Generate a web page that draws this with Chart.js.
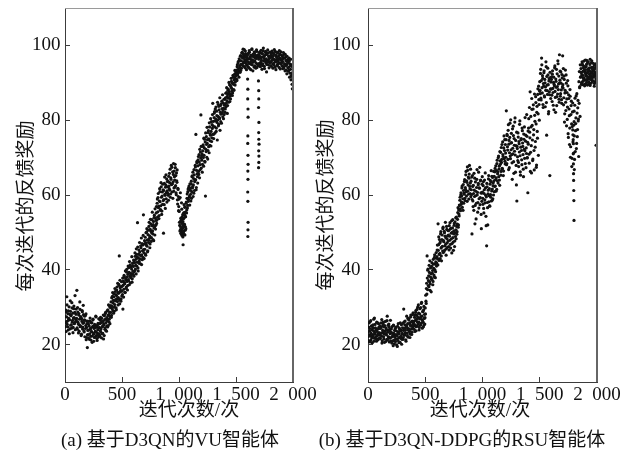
<!DOCTYPE html>
<html><head><meta charset="utf-8">
<script src="https://cdn.jsdelivr.net/npm/chart.js@4.4.1/dist/chart.umd.min.js"></script>
<style>
html,body{margin:0;padding:0;background:#fff;}
#wrap{position:relative;width:624px;height:453px;overflow:hidden;font-family:"Liberation Serif","Noto Sans CJK SC",serif;color:#111;}
canvas{position:absolute;left:0;top:0;}
.yt{position:absolute;width:240px;height:24px;line-height:24px;text-align:center;font-size:19px;transform:rotate(-90deg);font-family:"Noto Sans CJK SC",sans-serif;white-space:nowrap;}
.xt{position:absolute;width:200px;height:24px;line-height:24px;text-align:center;font-size:19px;white-space:nowrap;}
.cap{position:absolute;width:320px;height:24px;line-height:24px;text-align:center;font-size:19px;white-space:nowrap;}
</style></head>
<body>
<div id="wrap">
<canvas id="c1" width="624" height="453"></canvas>
<canvas id="c2" width="624" height="453"></canvas>
<div class="yt" style="left:-96px;top:194px;">每次迭代的反馈奖励</div>
<div class="yt" style="left:204px;top:193px;">每次迭代的反馈奖励</div>
<div class="xt" style="left:89px;top:398px;">迭代次数/次</div>
<div class="xt" style="left:380px;top:398px;">迭代次数/次</div>
<div class="cap" style="left:10px;top:428px;">(a) 基于D3QN的VU智能体</div>
<div class="cap" style="left:302px;top:428px;">(b) 基于D3QN-DDPG的RSU智能体</div>
</div>
<script>
// iteration step between successive entries of the reward arrays
const STEP = 4;
const xTickValues = [0, 500, 1000, 1500, 2000];
const xTickLabels = ['0', '500', '1\u2002000', '1\u2002500', '2\u2002000'];
const yTickValues = [20, 40, 60, 80, 100];

// (a) VU agent, reward at iterations 0,4,8,...,1996
const vuReward = [
27.5,24.8,29.2,26.1,32.8,25.4,28.3,23.9,27.0,30.1,26.6,24.2,28.9,27.7,25.3,31.2,26.0,28.4,24.6,29.6,27.2,25.8,33.1,26.9,28.1,
26.4,34.5,24.1,28.7,25.5,27.9,23.6,26.8,29.4,25.0,27.3,22.8,26.2,28.8,24.7,30.5,25.9,23.4,27.6,26.5,24.3,28.2,21.9,25.6,19.2,
23.8,26.2,21.7,25.0,22.9,27.1,24.4,21.2,23.5,25.8,22.3,26.6,24.9,20.9,23.1,25.4,22.0,24.6,27.4,23.3,21.6,25.2,24.0,22.6,26.9,
22.8,25.6,23.7,27.3,24.2,21.8,26.1,24.8,23.0,27.9,25.3,22.4,26.7,24.5,28.6,25.9,23.6,27.2,26.4,29.3,25.1,28.0,26.8,30.2,27.5,
28.6,31.4,27.8,30.2,32.9,29.1,31.8,33.6,28.9,30.7,34.2,32.0,29.8,33.1,35.4,31.5,34.0,32.6,36.1,43.7,30.9,35.2,34.5,32.2,36.8,
35.6,33.4,29.5,37.0,34.8,38.2,36.3,33.9,37.7,35.1,39.4,36.9,34.6,38.8,37.4,40.6,36.0,39.1,41.3,37.9,38.5,40.2,36.7,41.8,39.6,
40.9,38.3,42.4,39.8,43.6,41.2,38.9,44.1,42.0,52.6,40.5,43.1,45.3,41.7,44.8,42.9,46.4,43.8,41.4,47.0,45.1,43.3,54.7,44.6,46.9,
45.5,48.7,43.9,47.2,50.1,46.3,44.8,49.4,47.9,51.6,48.4,45.9,50.8,52.3,47.6,49.9,53.4,50.4,48.1,52.9,51.2,54.6,49.3,53.8,51.9,
55.2,52.4,57.8,54.1,59.3,56.6,53.7,58.4,60.9,55.9,57.1,62.2,54.8,59.7,57.5,61.4,49.8,58.8,63.1,60.2,56.4,62.7,59.0,64.3,61.1,
60.5,63.7,58.6,62.4,65.8,61.3,59.4,64.6,67.9,62.9,60.8,66.2,63.5,68.4,61.9,64.9,62.1,67.3,65.2,60.1,63.8,66.7,57.6,61.5,55.8,
58.9,52.7,50.4,60.6,53.8,49.6,56.2,51.3,54.7,46.7,50.2,57.4,52.1,49.3,55.4,51.0,58.1,56.0,60.3,57.2,61.6,58.8,62.4,59.7,63.0,
61.8,58.4,63.7,60.9,65.1,62.3,59.6,64.4,66.8,61.2,63.9,67.5,76.2,62.0,68.6,65.7,63.2,69.4,66.3,70.8,64.6,68.1,71.5,81.4,67.2,
69.3,66.1,71.8,73.4,67.7,70.6,74.9,68.8,59.7,72.2,75.6,70.1,73.8,69.6,76.7,72.9,71.3,78.2,74.5,76.0,73.1,79.6,75.3,77.8,84.5,
78.4,75.1,80.7,82.3,76.6,79.8,83.5,77.9,81.2,74.7,80.1,84.2,78.9,82.8,80.4,77.3,83.9,81.6,79.2,85.1,82.0,80.9,84.6,83.2,81.5,
84.3,82.1,86.0,83.6,87.4,85.2,81.8,86.9,88.3,84.8,87.1,89.5,86.4,85.7,88.9,90.4,87.8,86.6,89.9,91.6,88.2,90.8,92.3,89.4,91.1,
91.9,93.4,90.6,94.8,92.5,95.7,93.1,96.4,94.2,92.8,97.3,95.0,93.9,96.9,98.2,94.6,97.6,95.4,98.9,96.2,94.0,97.8,95.8,93.5,97.0,
96.5,94.3,97.9,95.2,98.6,93.8,96.8,95.6,97.4,94.9,99.1,96.1,93.2,97.7,95.9,98.3,94.5,96.6,97.2,95.3,98.8,94.1,96.9,97.5,95.0,
96.3,98.1,94.7,97.0,95.5,98.7,96.0,93.6,97.8,95.1,99.3,96.7,94.4,97.3,95.8,98.4,96.4,92.9,97.6,95.7,98.0,94.8,96.2,97.1,95.4,
96.8,94.6,97.7,95.9,98.5,96.3,93.9,97.2,95.3,98.9,96.0,94.2,97.4,95.6,98.2,96.7,94.9,97.9,96.1,95.2,98.6,96.5,93.7,97.5,95.0,
96.2,94.5,97.3,95.7,98.1,94.0,96.6,95.1,97.6,93.4,96.0,94.8,97.1,95.3,93.1,96.4,94.2,95.8,92.6,94.9,96.3,91.8,94.4,89.6,92.7
];
// (a) VU agent, reward at iterations 2,6,10,...,1998
const vuRewardOdd = [
25.9,28.8,23.5,27.4,30.6,26.3,24.7,29.0,26.8,22.9,28.1,31.7,25.2,27.9,24.4,29.8,26.5,23.2,27.1,30.3,25.6,28.6,24.0,26.2,29.5,
27.0,24.5,29.9,26.0,23.1,28.3,25.3,31.4,24.8,27.5,22.4,26.9,29.1,24.2,25.7,28.0,23.7,26.6,22.1,27.8,25.1,21.3,24.6,26.3,22.7,
22.5,25.5,23.9,21.4,26.3,24.1,22.2,25.9,23.4,20.6,24.8,26.8,22.8,24.3,21.9,25.1,23.6,27.6,22.4,24.7,21.1,23.0,25.7,22.0,24.5,
24.6,22.3,26.5,23.4,25.8,27.0,22.9,24.9,26.2,21.5,25.5,27.7,24.1,28.3,23.8,26.9,25.0,29.0,24.7,27.8,30.6,26.1,28.7,25.6,29.9,
30.4,27.3,32.5,29.6,33.9,31.1,28.4,32.8,30.0,35.0,31.7,33.4,29.3,34.6,32.3,36.4,30.6,33.7,35.8,32.0,37.2,34.1,31.6,35.5,33.0,
34.3,37.8,35.9,32.7,38.5,36.6,34.0,39.7,37.3,35.4,40.1,38.1,35.8,41.0,37.0,39.3,42.2,38.3,36.5,40.8,39.0,43.5,37.6,41.1,38.8,
42.6,39.5,41.9,44.5,40.2,42.8,45.6,41.0,43.4,46.1,39.7,44.2,42.3,47.3,43.9,41.6,45.9,48.5,44.0,42.7,46.6,49.2,45.4,43.0,47.8,
47.0,44.2,49.9,46.6,51.0,48.0,45.1,50.6,47.3,52.7,49.1,46.9,53.5,50.3,48.6,51.8,55.4,49.6,52.1,47.8,54.0,51.5,56.3,50.9,53.2,
56.9,53.3,58.9,55.5,60.4,57.0,54.5,61.7,58.2,56.1,63.3,59.4,55.7,60.8,62.9,58.5,61.2,57.4,64.8,59.9,62.1,65.4,60.7,58.1,63.6,
62.2,59.9,65.0,61.7,63.3,66.9,60.3,64.2,62.8,67.4,63.0,59.1,65.5,61.0,66.4,64.0,68.2,62.5,60.6,65.9,63.4,58.7,61.8,59.6,56.9,
55.6,51.9,59.3,50.8,53.1,57.9,50.1,52.6,48.8,55.0,51.6,53.9,56.7,50.6,54.2,57.8,55.2,59.1,56.5,60.9,58.3,62.0,59.4,57.3,61.3,
60.2,63.0,59.1,64.9,61.9,66.1,62.7,60.5,65.4,63.6,67.9,64.1,61.4,66.6,69.0,64.9,67.8,70.3,65.5,68.8,72.2,66.8,69.9,73.0,70.5,
71.0,68.2,73.0,70.0,75.2,72.6,69.0,74.2,76.6,71.6,73.5,78.1,74.8,71.9,77.2,75.0,79.3,73.3,76.3,80.4,77.0,74.3,78.8,81.5,76.2,
79.7,76.3,81.9,78.2,83.0,80.3,77.0,82.4,79.4,84.8,81.0,78.5,83.7,80.7,86.0,82.1,79.6,84.4,81.8,83.1,86.8,82.6,80.4,85.6,84.0,
85.6,83.0,87.2,84.5,88.7,86.3,83.9,88.0,85.9,90.1,87.6,85.0,89.3,86.9,91.2,88.5,90.0,87.3,92.0,89.6,88.0,91.4,93.3,90.2,92.6,
93.0,90.9,94.3,92.1,95.3,93.7,91.5,96.0,94.6,97.1,93.3,95.9,98.0,94.9,96.6,99.0,95.6,97.2,94.3,96.8,98.5,95.2,97.4,94.7,96.3,
95.7,97.6,94.1,96.4,98.2,95.1,97.0,93.5,96.2,98.9,94.8,97.3,95.5,96.9,94.2,98.0,95.8,97.4,93.9,96.5,98.4,95.0,97.1,94.6,96.8,
97.4,95.2,98.3,94.3,96.6,97.9,95.0,96.9,94.6,98.6,95.9,97.2,93.8,96.3,98.1,95.4,97.6,94.9,96.1,98.8,95.6,97.0,94.0,96.7,98.2,
95.5,97.3,94.4,96.9,98.0,95.1,96.5,97.8,94.7,96.2,98.4,95.8,93.5,97.0,96.3,94.6,98.1,95.7,97.2,94.1,96.6,97.7,95.3,98.3,96.0,
95.4,97.0,93.8,96.5,94.3,97.7,95.0,93.2,96.8,94.6,95.9,92.4,96.1,94.0,95.5,93.3,96.6,91.5,95.0,93.6,90.8,94.7,92.2,88.4,91.3
];
// (a) VU agent, extra episodes: dip cluster near 1 030 and the two collapse columns
const vuExtraIter = [
1012,1016,1018,1022,1024,1026,1028,1030,1032,1034,1036,1038,1040,1042,1044,1046,1048,1050,1054,1056,
1602,1604,1603,1605,1606,1604,1603,1605,1606,1604,1605,1603,1604,1606,1605,1604,
1697,1699,1700,1698,1701,1699,1700,1702,1699,1701,1700,1698
];
const vuExtraReward = [
51.6,49.8,53.2,50.7,52.4,49.2,54.1,51.1,50.0,52.9,49.6,53.6,51.9,50.4,55.3,52.2,49.4,54.6,56.8,51.5,
91.0,88.3,85.7,83.0,80.8,75.8,73.8,70.6,68.2,66.4,64.2,60.8,58.3,52.7,50.7,48.9,
90.5,87.9,85.7,83.4,79.4,76.7,74.9,73.6,71.8,70.4,68.7,67.3
];

// (b) RSU agent, reward at iterations 0,4,8,...,1996
const rsuReward = [
23.4,21.1,25.8,22.6,24.3,20.7,26.4,23.0,21.8,24.9,22.2,25.3,23.7,20.9,27.1,22.8,24.5,21.5,23.9,26.0,22.4,24.1,21.3,25.6,23.2,
22.7,25.0,21.6,24.4,23.1,26.7,21.0,23.8,25.5,22.1,24.7,20.6,23.5,26.2,22.9,24.0,21.4,27.6,23.3,25.2,22.0,24.8,21.7,23.6,26.5,
21.9,24.2,20.4,23.1,22.5,19.7,25.1,21.2,23.8,22.0,20.8,24.6,22.7,21.5,19.5,23.4,25.6,21.8,22.9,24.0,20.6,23.6,22.2,25.3,21.4,
23.0,25.7,21.9,29.5,24.4,22.6,26.3,23.9,20.9,25.1,24.7,22.3,27.0,24.0,26.6,23.5,25.8,22.8,27.4,24.9,26.1,23.3,28.0,25.4,24.2,
26.2,24.1,27.9,25.3,28.6,23.7,26.8,29.4,25.0,27.3,30.6,26.0,24.6,28.2,27.1,29.9,25.7,31.3,27.6,26.4,28.9,24.8,30.2,27.0,25.5,
29.8,33.2,31.0,36.4,43.7,34.7,40.2,37.1,35.5,39.3,42.4,36.2,38.0,34.1,40.9,37.6,39.8,36.9,41.5,38.6,43.3,40.0,37.9,42.1,44.6,
41.8,45.3,43.0,52.3,46.7,42.5,48.1,44.4,47.5,50.2,43.7,46.1,49.3,45.0,51.4,47.8,44.9,49.9,46.4,52.7,48.6,45.6,50.8,47.2,49.1,
47.7,50.5,45.3,49.0,52.6,46.8,51.1,48.3,44.5,50.0,53.4,47.4,49.6,51.9,46.2,52.8,48.9,50.7,54.1,49.5,52.2,55.3,51.4,56.0,54.4,
57.2,59.4,55.8,60.6,58.1,61.9,56.7,59.0,62.8,57.8,60.2,64.1,58.5,61.5,66.3,59.7,63.4,67.5,61.0,64.8,58.9,65.6,62.3,60.4,66.9,
63.7,60.1,49.6,65.2,58.4,62.6,55.9,61.3,64.5,57.2,59.8,53.6,62.0,66.8,60.7,58.0,63.1,56.5,61.9,67.4,59.3,64.0,54.8,60.5,62.9,
60.8,57.5,63.6,55.2,61.4,58.7,65.9,59.9,51.8,46.4,62.2,56.6,60.3,64.3,58.2,61.7,57.0,63.9,59.4,66.5,61.1,58.6,64.7,62.5,60.0,
63.8,60.9,66.2,62.4,67.8,64.6,61.5,69.3,65.7,63.2,70.4,66.9,64.0,71.6,68.2,65.3,72.7,69.5,67.1,74.2,70.3,66.4,75.8,71.9,69.0,
73.5,70.1,82.5,68.4,75.9,72.0,77.3,66.8,74.6,71.3,79.2,69.7,73.9,76.5,70.8,64.2,72.5,78.4,68.9,75.1,71.7,80.6,66.1,73.2,62.7,
58.4,72.4,69.2,75.5,67.6,73.7,78.9,70.5,65.3,74.8,71.9,68.1,77.2,73.0,66.9,76.3,72.2,69.8,80.7,74.4,67.3,71.1,75.7,70.0,60.6,
73.6,80.4,68.5,76.8,87.6,71.4,78.2,65.9,82.9,74.7,69.6,84.1,77.5,66.7,81.3,72.8,86.3,79.0,68.0,83.7,75.2,88.4,70.6,85.5,80.0,
90.3,87.1,93.6,85.4,96.6,88.7,91.9,84.2,89.8,92.7,86.5,90.9,83.6,88.0,94.3,76.0,89.4,86.9,92.1,81.7,90.5,87.6,65.2,91.4,85.8,
88.3,91.6,85.0,93.2,87.4,90.1,82.8,89.2,94.5,86.1,91.0,88.8,83.9,92.4,87.0,95.1,89.7,85.6,97.5,90.7,86.4,92.9,88.1,84.5,91.3,
97.2,88.6,84.1,91.8,79.5,87.3,93.4,82.6,89.9,85.7,80.2,90.6,76.4,86.8,83.0,73.5,88.2,70.1,81.5,85.1,67.6,78.3,84.6,74.8,71.2,
82.4,69.5,85.9,77.2,80.6,72.4,87.1,75.6,83.3,79.8,70.3,84.5,88.7,81.0,91.5,93.8,89.6,92.2,95.0,90.4,93.1,91.0,94.4,89.2,92.6,
93.5,90.8,94.9,91.7,89.4,92.9,95.6,90.2,93.3,91.4,96.3,92.0,89.9,94.1,91.2,93.7,90.5,95.2,92.4,89.1,93.9,91.8,94.6,73.3,92.1
];
// (b) RSU agent, reward at iterations 2,6,10,...,1998
const rsuRewardOdd = [
22.1,24.7,20.8,23.6,26.1,22.4,21.2,25.0,23.9,20.5,24.4,22.7,26.8,21.7,23.3,25.4,22.0,24.2,20.9,23.5,25.9,22.9,21.6,24.6,22.5,
24.3,21.8,23.0,25.8,22.3,20.4,24.9,23.2,26.0,21.5,22.8,25.1,23.7,20.8,24.5,22.6,26.4,21.2,23.9,22.1,25.5,20.7,24.2,22.9,21.0,
23.3,20.9,24.8,22.1,21.0,25.2,23.0,20.2,22.6,24.3,21.5,23.7,19.9,22.4,24.9,21.1,23.2,20.5,24.4,22.0,25.8,21.7,23.9,20.1,22.8,
24.5,21.4,23.8,26.0,22.5,25.3,23.2,21.3,24.6,27.6,23.0,25.6,22.0,24.3,26.9,23.6,21.9,25.2,27.9,24.1,22.7,26.3,24.8,28.5,25.8,
25.0,27.3,23.5,26.5,29.1,24.8,27.8,26.1,30.0,25.6,28.4,23.9,26.9,29.6,25.2,27.5,31.0,26.7,24.4,28.8,26.0,29.3,25.3,28.1,27.2,
28.2,31.6,35.0,33.5,37.8,39.9,35.8,38.4,41.2,36.8,34.5,40.5,38.9,37.4,41.9,39.1,36.0,42.8,40.4,38.2,44.0,41.6,39.5,43.1,41.0,
43.5,46.6,41.3,45.2,48.8,44.1,47.1,43.0,49.6,45.8,42.4,48.1,46.3,51.0,44.6,47.5,50.3,45.3,49.0,46.9,43.9,51.6,48.3,46.0,50.5,
49.3,46.2,51.8,47.9,50.9,45.8,49.8,53.1,47.0,51.2,48.6,45.2,50.4,52.4,47.7,49.9,53.9,48.3,51.6,50.2,53.5,56.6,52.0,54.9,57.3,
58.6,56.3,60.0,57.5,59.8,62.4,58.0,55.9,61.2,60.5,63.6,59.1,62.0,65.4,60.9,63.8,58.3,66.6,62.7,60.2,64.5,67.9,61.6,63.2,59.5,
61.4,64.8,58.8,62.3,56.9,60.4,65.8,59.6,52.3,63.5,61.0,57.8,64.2,60.0,55.4,62.7,66.1,59.0,61.8,57.4,63.8,60.6,51.0,58.3,64.9,
59.1,62.5,56.4,60.4,64.0,57.9,61.9,54.3,59.5,63.1,58.0,52.0,61.3,65.2,59.8,57.1,62.9,60.1,63.5,58.4,65.0,61.6,59.0,63.3,66.3,
65.0,62.3,67.1,64.1,61.0,66.5,68.4,63.8,66.2,70.0,64.9,67.7,62.6,69.1,71.4,66.3,68.7,73.5,67.0,70.8,65.2,72.6,69.7,74.8,68.3,
71.2,74.8,68.1,76.2,72.9,69.5,78.8,73.6,67.3,75.4,70.4,80.1,72.1,74.0,68.6,77.7,71.0,75.9,65.8,73.3,79.5,70.7,74.6,67.9,76.8,
73.0,70.2,76.6,68.7,74.3,71.5,79.8,66.2,72.8,75.1,69.4,77.9,73.9,70.8,64.9,74.9,78.2,71.8,68.4,76.0,72.6,81.5,69.9,74.1,77.1,
77.9,70.9,83.4,75.3,66.3,81.0,73.2,85.8,78.6,69.2,83.0,76.1,71.9,87.0,79.7,74.3,84.7,67.4,82.1,77.0,86.9,81.7,89.1,84.2,87.8,
88.0,92.5,85.9,90.6,94.8,87.3,91.2,83.4,89.1,93.2,86.2,90.0,88.9,95.6,84.7,91.7,87.9,93.9,89.5,82.3,91.1,86.8,92.8,88.4,90.2,
90.9,86.7,92.3,88.5,84.0,91.5,89.6,94.0,87.7,82.1,90.4,93.6,86.3,89.0,95.9,88.2,91.8,84.8,90.0,93.1,87.1,89.9,85.5,92.2,88.9,
89.5,93.8,86.0,90.9,81.7,88.0,84.8,92.1,78.5,87.4,83.5,89.2,75.4,85.8,81.2,77.9,86.4,72.9,83.9,79.0,69.8,82.2,76.1,73.7,78.7,
75.8,84.0,71.6,79.1,86.5,73.8,81.9,77.5,85.3,80.3,90.3,93.0,89.0,94.8,91.6,92.8,90.0,95.6,92.0,89.5,94.0,91.3,93.4,90.7,96.1,
91.9,94.3,90.1,92.7,95.4,91.0,93.6,89.6,92.3,94.9,90.9,93.0,91.5,95.9,92.5,90.4,94.2,91.6,93.3,89.8,92.8,95.0,91.1,93.8,90.6
];
// (b) RSU agent, extra episodes: collapse column near 1 800 and the final plateau
const rsuExtraIter = [
1788,1790,1792,1794,1795,1796,1797,1798,1799,1800,1802,
1862,1868,1874,1880,1886,1892,1898,1904,1910,1916,1922,1928,1934,1940,1946,1952,1958,1964,1970,1976,1982,1988,1994
];
const rsuExtraReward = [
77.4,74.2,71.0,68.3,65.7,63.9,61.2,58.5,53.2,79.6,66.8,
92.8,90.1,94.7,91.3,95.8,93.0,89.7,92.2,96.0,90.9,93.6,91.5,94.0,89.3,92.7,95.4,90.6,93.2,91.9,94.8,90.3,92.4,95.1
];

const AXIS = '#3c3c3c';
const framePlugin = {
  id: 'frame',
  afterDraw(c) {
    const {ctx, chartArea: a} = c;
    ctx.save();
    ctx.strokeStyle = '#9a9a9a'; ctx.lineWidth = 1;
    ctx.beginPath(); ctx.moveTo(a.left, a.top + 0.5); ctx.lineTo(a.right, a.top + 0.5); ctx.stroke();
    ctx.strokeStyle = '#666'; ctx.lineWidth = 2;
    ctx.beginPath(); ctx.moveTo(a.right, a.top); ctx.lineTo(a.right, a.bottom); ctx.stroke();
    ctx.restore();
  }
};

function build(id, even, odd, exIter, exVal, g) {
  const evenPts = even.map((v, i) => ({x: i * STEP, y: v}));
  const oddPts = odd.map((v, i) => ({x: i * STEP + STEP / 2, y: v}));
  const extra = exIter.map((x, i) => ({x: x, y: exVal[i]}));
  const ds = {pointRadius: 1.6, pointBorderWidth: 0, pointBackgroundColor: '#111', borderColor: '#111', showLine: false};
  return new Chart(document.getElementById(id), {
    type: 'scatter',
    data: {datasets: [Object.assign({data: evenPts}, ds), Object.assign({data: oddPts}, ds), Object.assign({data: extra}, ds)]},
    options: {
      responsive: false, animation: false, events: [],
      layout: {padding: {left: g.padL, right: g.padR, top: g.top, bottom: g.padB}},
      plugins: {legend: {display: false}, tooltip: {enabled: false}, title: {display: false}},
      scales: {
        x: {
          type: 'linear', min: 0, max: 2000,
          afterBuildTicks: s => { s.ticks = xTickValues.map(v => ({value: v})); },
          afterFit: s => { s.height = g.xh; s.paddingLeft = 0; s.paddingRight = 0; },
          ticks: {callback: (v, i) => xTickLabels[i], font: {family: 'Liberation Serif', size: 19}, color: '#111', padding: 7, maxRotation: 0, autoSkip: false},
          grid: {drawOnChartArea: false, drawTicks: true, tickLength: -5, color: AXIS, lineWidth: 1},
          border: {display: true, color: AXIS, width: 1}
        },
        y: {
          type: 'linear', min: 10, max: 110,
          afterBuildTicks: s => { s.ticks = yTickValues.map(v => ({value: v})); },
          afterFit: s => { s.width = g.yw; s.paddingTop = 0; s.paddingBottom = 0; },
          ticks: {callback: v => String(v), font: {family: 'Liberation Serif', size: 19}, color: '#111', padding: g.yPad, autoSkip: false},
          grid: {drawOnChartArea: false, drawTicks: true, tickLength: -5, color: AXIS, lineWidth: 1},
          border: {display: true, color: AXIS, width: 1}
        }
      }
    },
    plugins: [framePlugin]
  });
}

build('c1', vuReward, vuRewardOdd, vuExtraIter, vuExtraReward, {padL: 0, yw: 65, padR: 331, top: 8, xh: 40, padB: 31, yPad: 9.5});
build('c2', rsuReward, rsuRewardOdd, rsuExtraIter, rsuExtraReward, {padL: 308, yw: 60, padR: 27, top: 8, xh: 40, padB: 31, yPad: 12.5});
</script>
</body></html>
